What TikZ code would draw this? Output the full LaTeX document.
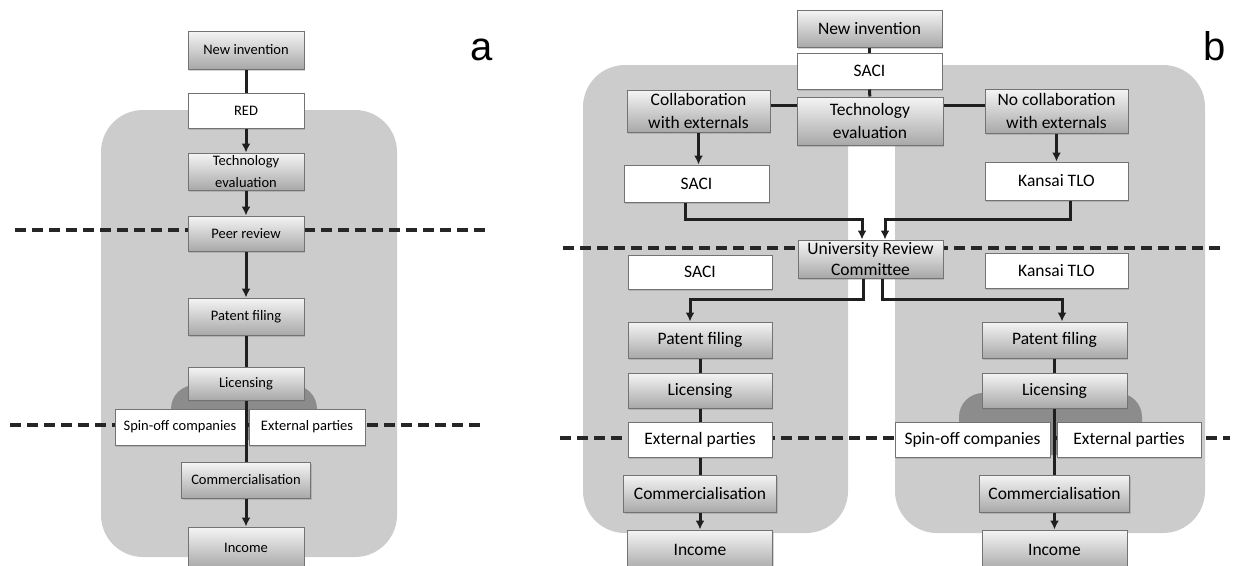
\documentclass[tikz,border=0pt]{standalone}
\usepackage{fontspec}
\setmainfont{Carlito}
\newfontfamily\labfont{Liberation Sans}
\usetikzlibrary{shadows,arrows.meta}

\begin{document}
\begin{tikzpicture}[x=1pt, y=-1pt, >={Latex[length=9pt,width=9pt]},
    box/.style={draw=black!55, line width=1pt, inner sep=0pt, align=center,
        drop shadow={shadow xshift=1pt, shadow yshift=-1.5pt, opacity=.35}},
    gbox/.style={box, top color=black!4, bottom color=black!34},
    wbox/.style={box, fill=white},
    sa/.style={font=\fontsize{14.5}{22}\selectfont, minimum width=116pt, minimum height=36pt},
    sb/.style={font=\fontsize{17.5}{23}\selectfont, minimum width=145pt, minimum height=36pt},
    link/.style={draw=black!88, line width=3pt},
    divline/.style={draw=black!85, line width=3.2pt, dash pattern=on 11pt off 6pt},
    zone/.style={fill=black!20, rounded corners=42pt},
    dome/.style={fill=black!45, rounded corners=24pt},
    lab/.style={font=\labfont\fontsize{40}{40}\selectfont}]
    \useasboundingbox (0,0) rectangle (1236,565);

    % grey areas
    \fill[zone] (101,110) rectangle (397,557);
    \fill[zone] (583,65) rectangle (848,533);
    \fill[zone] (895,65) rectangle (1205,533);
    \fill[black!20] (800,65) rectangle (940,145);
    \fill[dome] (171,440) rectangle (317,385);
    \fill[dome] (959,455) rectangle (1142,393);

    % dashed borders
    \draw[divline] (15,230) -- (490,230);
    \draw[divline] (10,425) -- (485,425);
    \draw[divline] (563,248) -- (1222,248);
    \draw[divline] (560,438) -- (1230,438);

    % panel a
    \node[gbox, sa, minimum height=38pt] (aNew) at (246,50) {New invention};
    \node[wbox, sa, minimum height=35pt] (aRed) at (246,110.5) {RED};
    \node[gbox, sa, minimum height=37pt] (aTech) at (246,171.5) {Technology\\evaluation};
    \node[gbox, sa, minimum height=35pt] (aPeer) at (246,233.5) {Peer review};
    \node[gbox, sa, minimum height=37pt] (aPat) at (246,316.5) {Patent filing};
    \node[gbox, sa, minimum height=33pt] (aLic) at (246,383.5) {Licensing};
    \node[wbox, sa, minimum width=130pt] (aSpin) at (180,427) {Spin-off companies};
    \node[wbox, sa] (aExt) at (307,427) {External parties};
    \node[gbox, sa, minimum width=129pt] (aCom) at (246,480) {Commercialisation};
    \node[gbox, sa, minimum height=41pt] (aInc) at (246,547.5) {Income};
    \node[lab] (aLab) at (482,50) {a};

    \draw[link] (aNew) -- (aRed);
    \draw[link,->] (aRed) -- (aTech);
    \draw[link,->] (aTech) -- (aPeer);
    \draw[link,->] (aPeer) -- (aPat);
    \draw[link] (aPat) -- (aLic);
    \draw[link] (aLic) -- (aCom);
    \draw[link,->] (aCom) -- (aInc);

    % panel b
    \node[gbox, sb, minimum height=37pt] (bNew) at (869.5,28.5) {New invention};
    \node[wbox, sb] (bSaci) at (869.5,71) {SACI};
    \node[gbox, sb, minimum width=146pt, minimum height=48pt] (bTech) at (870,121) {Technology\\evaluation};
    \node[gbox, sb, minimum width=143pt, minimum height=42pt] (bCol) at (698.5,111) {Collaboration\\with externals};
    \node[gbox, sb, minimum width=143pt, minimum height=44pt] (bNoCol) at (1056.5,111) {No collaboration\\with externals};
    \node[wbox, sb, minimum height=37pt] (bSaciL) at (696.5,183.5) {SACI};
    \node[wbox, sb, minimum width=143pt, minimum height=38pt] (bKan) at (1056.5,181) {Kansai TLO};
    \node[gbox, sb, minimum height=38pt, font=\fontsize{17.5}{21}\selectfont] (bUrc) at (870.5,259) {University Review\\Committee};
    \node[wbox, sb, minimum width=144pt, minimum height=34pt] (bSaciM) at (700,272) {SACI};
    \node[wbox, sb, minimum width=143pt, minimum height=35pt] (bKanM) at (1056.5,270.5) {Kansai TLO};

    \node[gbox, sb, minimum width=144pt] (bPatL) at (700,340) {Patent filing};
    \node[gbox, sb, minimum width=144pt, minimum height=35pt] (bLicL) at (700,390.5) {Licensing};
    \node[wbox, sb, minimum width=144pt, minimum height=35pt] (bExtL) at (700,439.5) {External parties};
    \node[gbox, sb, minimum width=153pt, minimum height=37pt] (bComL) at (700,493.5) {Commercialisation};
    \node[gbox, sb, minimum height=40pt] (bIncL) at (700,550) {Income};

    \node[gbox, sb] (bPatR) at (1054.5,340) {Patent filing};
    \node[gbox, sb, minimum height=35pt] (bLicR) at (1054.5,390.5) {Licensing};
    \node[wbox, sb, minimum width=155pt, minimum height=35pt] (bSpin) at (972.5,439.5) {Spin-off companies};
    \node[wbox, sb, minimum width=144pt, minimum height=35pt] (bExtR) at (1129,439.5) {External parties};
    \node[gbox, sb, minimum width=150pt, minimum height=37pt] (bComR) at (1054.5,493.5) {Commercialisation};
    \node[gbox, sb, minimum height=40pt] (bIncR) at (1054.5,550) {Income};
    \node[lab] (bLab) at (1215,46) {b};

    \draw[link] (bNew) -- (bSaci);
    \draw[link] (bSaci) -- (bTech);
    \draw[link] ([yshift=6pt]bCol.east) -- ([yshift=6pt]bCol.east -| bTech.west);
    \draw[link] ([yshift=6pt]bNoCol.west) -- ([yshift=6pt]bNoCol.west -| bTech.east);
    \draw[link,->] (bCol.south) -- (bCol.south |- bSaciL.north);
    \draw[link,->] (bNoCol) -- (bKan);
    \draw[link,->] ([xshift=-11.5pt]bSaciL.south) -- ++(0,17) -| ([xshift=-8.5pt]bUrc.north);
    \draw[link,->] ([xshift=13.5pt]bKan.south) -- ++(0,19) -| ([xshift=14.5pt]bUrc.north);
    \draw[link,->] ([xshift=-7.5pt]bUrc.south) -- ++(0,21) -| ([xshift=-10pt]bPatL.north);
    \draw[link,->] ([xshift=11.5pt]bUrc.south) -- ++(0,21) -| ([xshift=7.5pt]bPatR.north);
    \draw[link] (bPatL) -- (bLicL);
    \draw[link] (bLicL) -- (bExtL);
    \draw[link] (bExtL) -- (bComL);
    \draw[link,->] (bComL) -- (bIncL);
    \draw[link] (bPatR) -- (bLicR);
    \draw[link] (bLicR) -- (bComR);
    \draw[link,->] (bComR) -- (bIncR);
\end{tikzpicture}
\end{document}
